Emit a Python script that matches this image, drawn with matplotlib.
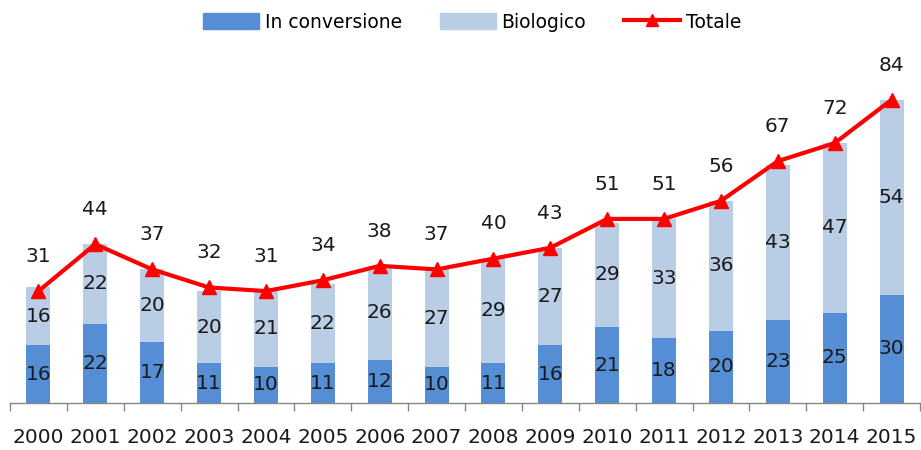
import numpy as np
import matplotlib.pyplot as plt
from matplotlib.lines import Line2D
from matplotlib.patches import Patch

# dati (migliaia di ettari)
anni = ['2000', '2001', '2002', '2003', '2004', '2005', '2006', '2007',
        '2008', '2009', '2010', '2011', '2012', '2013', '2014', '2015']
in_conversione = [16, 22, 17, 11, 10, 11, 12, 10, 11, 16, 21, 18, 20, 23, 25, 30]
biologico = [16, 22, 20, 20, 21, 22, 26, 27, 29, 27, 29, 33, 36, 43, 47, 54]
totale = [31, 44, 37, 32, 31, 34, 38, 37, 40, 43, 51, 51, 56, 67, 72, 84]

col_conv = '#558ED5'
col_bio = '#B9CDE5'
col_tot = '#FF0000'

plt.rcParams['font.family'] = ['DejaVu Sans']

fig = plt.figure(figsize=(9.21, 4.5), dpi=100)
ax = fig.add_axes([10 / 921, 47 / 450, 910 / 921, 361 / 450])

x = np.arange(len(anni))
w = 0.42
conv = np.array(in_conversione)
bio = np.array(biologico)

ax.bar(x, conv, w, color=col_conv, zorder=2)
ax.bar(x, bio, w, bottom=conv, color=col_bio, zorder=2)
ax.plot(x, totale, color=col_tot, lw=3, marker='^', ms=10, zorder=3,
        clip_on=False)

fs = 14.5
for xi, c, b in zip(x, conv, bio):
    ax.text(xi, c / 2, str(c), ha='center', va='center', fontsize=fs,
            color='#1a1a1a', zorder=4)
    ax.text(xi, c + b / 2, str(b), ha='center', va='center', fontsize=fs,
            color='#1a1a1a', zorder=4)
for xi, t in zip(x, totale):
    ax.annotate(str(t), (xi, t), xytext=(0, 25), textcoords='offset points',
                ha='center', va='center', fontsize=fs, color='#1a1a1a',
                annotation_clip=False)

ax.set_xlim(-0.5, len(anni) - 0.5)
ax.set_ylim(0, 100)
ax.set_yticks([])
ax.set_xticks(x)
ax.set_xticklabels(anni, fontsize=fs, color='#1a1a1a')
ax.set_xticks(np.arange(-0.5, len(anni)), minor=True)
ax.tick_params(axis='x', which='major', length=0, pad=18)
ax.tick_params(axis='x', which='minor', length=6, width=1, color='#868686')
for s in ['top', 'right', 'left']:
    ax.spines[s].set_visible(False)
ax.spines['bottom'].set_color('#868686')
ax.spines['bottom'].set_linewidth(1)

handles = [Patch(color=col_conv), Patch(color=col_bio),
           Line2D([], [], color=col_tot, lw=3, marker='^', ms=9)]
fig.legend(handles, ['In conversione', 'Biologico', 'Totale'],
           loc='center', bbox_to_anchor=(472 / 921, 1 - 22 / 450), ncol=3,
           frameon=False, fontsize=13.5, handlelength=3.0, handleheight=0.9,
           columnspacing=2.0, handletextpad=0.3)

fig.savefig('out.png', dpi=100)
